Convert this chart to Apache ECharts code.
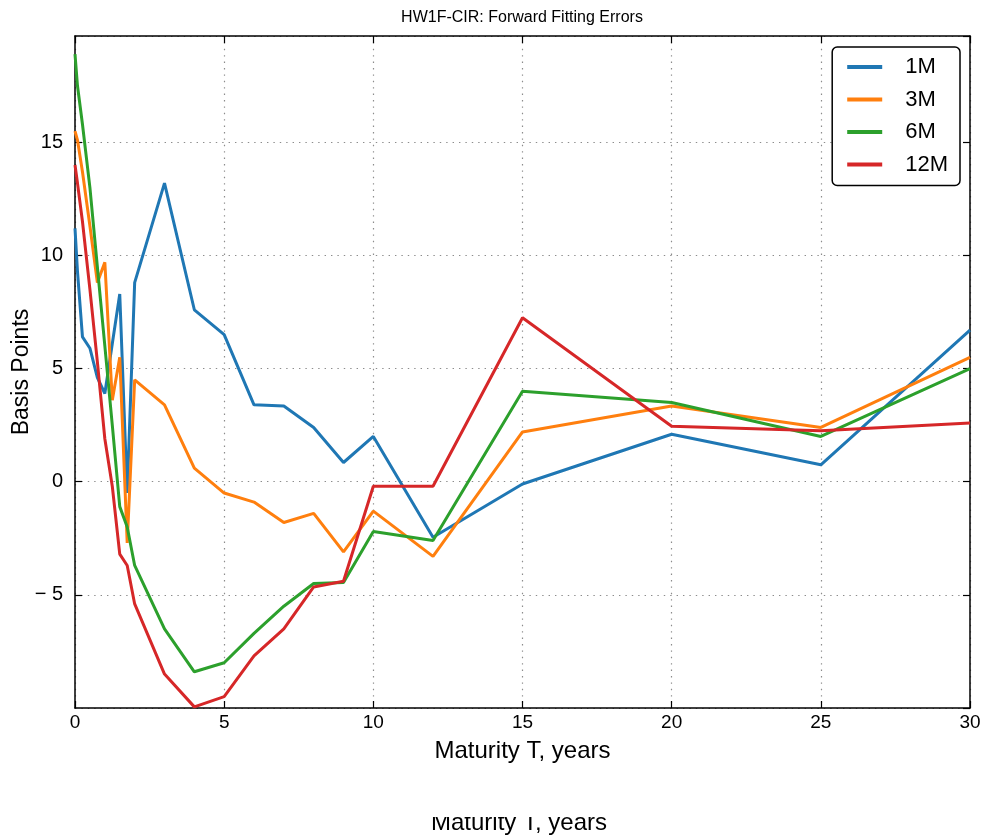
<!DOCTYPE html>
<html>
<head>
<meta charset="utf-8">
<script src="https://cdn.jsdelivr.net/npm/echarts@6/dist/echarts.min.js"></script>
<style>
  html, body { margin: 0; padding: 0; background: #fff; }
  #chart { width: 985px; height: 838px; }
</style>
</head>
<body>
<div id="chart"></div>
<script>
// ---- data ----
const maturities = [0, 0.083, 0.25, 0.5, 0.75, 1, 1.25, 1.5, 1.75, 2, 3, 4, 5, 6, 7, 8, 9, 10, 12, 15, 20, 25, 30];
const err1M  = [11.2, 9.3, 6.4, 5.9, 4.6, 3.9, 6.1, 8.3, -0.5, 8.8, 13.2, 7.6, 6.5, 3.4, 3.35, 2.4, 0.85, 2.0, -2.45, -0.1, 2.1, 0.75, 6.7];
const err3M  = [15.5, 15.1, 13.7, 11.3, 8.8, 9.7, 3.6, 5.5, -2.7, 4.5, 3.4, 0.6, -0.5, -0.9, -1.8, -1.4, -3.1, -1.3, -3.3, 2.2, 3.35, 2.4, 5.5];
const err6M  = [18.9, 17.5, 15.8, 13.0, 9.5, 6.0, 2.5, -1.1, -2.0, -3.7, -6.5, -8.4, -8.0, -6.7, -5.5, -4.5, -4.45, -2.2, -2.6, 4.0, 3.5, 2.0, 5.0];
const err12M = [14.0, 13.2, 11.5, 8.5, 5.3, 1.9, -0.2, -3.2, -3.7, -5.4, -8.5, -9.95, -9.5, -7.7, -6.5, -4.65, -4.4, -0.2, -0.2, 7.25, 2.45, 2.25, 2.6];
const seriesNames = ['1M', '3M', '6M', '12M'];
const seriesValues = [err1M, err3M, err6M, err12M];
const xTicks = [0, 5, 10, 15, 20, 25, 30];
const yTicks = [-10, -5, 0, 5, 10, 15];
const titleText = 'HW1F-CIR: Forward Fitting Errors';
const xName = 'Maturity T, years';
const yName = 'Basis Points';

// ---- style ----
const colors = ['#1f77b4', '#ff7f0e', '#2ca02c', '#d62728'];
const FONT = 'Liberation Sans, Arial, sans-serif';
const gridLine = { show: true, lineStyle: { color: '#8c8c8c', width: 1.2, type: [1.4, 5] } };
const axLine = { show: true, onZero: false, lineStyle: { color: '#000', width: 1.5 } };
const axTick = { show: true, inside: true, length: 7, lineStyle: { color: '#000', width: 1.2 } };

const chart = echarts.init(document.getElementById('chart'), null, { renderer: 'canvas' });

const series = seriesNames.map((name, i) => ({
  name: name,
  type: 'line',
  xAxisIndex: 0,
  yAxisIndex: 0,
  showSymbol: false,
  symbol: 'none',
  data: maturities.map((m, k) => [m, seriesValues[i][k]]),
  lineStyle: { color: colors[i], width: 3 },
  itemStyle: { color: colors[i] },
  z: 3 + i,
  animation: false
}));

const option = {
  animation: false,
  backgroundColor: '#fff',
  grid: { left: 75, right: 15, top: 36, bottom: 130, containLabel: false, outerBoundsMode: 'none' },
  xAxis: [{
    type: 'value', position: 'bottom',
    min: xTicks[0], max: xTicks[xTicks.length - 1], interval: 5,
    axisLine: axLine, axisTick: axTick, splitLine: gridLine,
    axisLabel: { color: '#000', fontSize: 19, fontFamily: FONT, margin: 5 },
    name: xName, nameLocation: 'middle', nameGap: 31, nameMoveOverlap: false,
    nameTextStyle: { color: '#000', fontSize: 24, fontFamily: FONT }
  }, {
    type: 'value', position: 'top',
    min: xTicks[0], max: xTicks[xTicks.length - 1], interval: 5,
    axisLine: axLine, axisTick: axTick, splitLine: { show: false },
    axisLabel: { show: false }
  }],
  yAxis: [{
    type: 'value', position: 'left',
    min: yTicks[0], max: 19.7, interval: 5,
    axisLine: axLine, axisTick: axTick, splitLine: gridLine,
    axisLabel: {
      color: '#000', fontSize: 20, fontFamily: FONT, margin: 12,
      showMinLabel: false, showMaxLabel: false,
      formatter: v => (v < 0 ? '\u2212 ' + (-v) : String(v))
    },
    name: yName, nameLocation: 'middle', nameGap: 42, nameRotate: 90, nameMoveOverlap: false,
    nameTextStyle: { color: '#000', fontSize: 23, fontFamily: FONT }
  }, {
    type: 'value', position: 'right',
    min: yTicks[0], max: 19.7, interval: 5,
    axisLine: axLine, axisTick: axTick, splitLine: { show: false },
    axisLabel: { show: false }
  }],
  legend: {
    orient: 'vertical', right: 25, top: 47,
    data: seriesNames,
    backgroundColor: '#fff', borderColor: '#000', borderWidth: 1.5, borderRadius: 5,
    padding: [9, 12, 10, 15],
    itemWidth: 35, itemHeight: 4, itemGap: 10.5, icon: 'rect',
    textStyle: { color: '#000', fontSize: 22, fontFamily: FONT, lineHeight: 22, padding: [0, 0, 0, 18] },
    z: 10
  },
  graphic: [
    { type: 'text', x: 522, y: 18, z: 10,
      style: { text: titleText, fill: '#000', font: '16px ' + FONT, textAlign: 'center', textVerticalAlign: 'middle' } },
    { type: 'text', x: 519, y: 823, z: 10,
      style: { text: xName, fill: '#000', font: '24px ' + FONT, textAlign: 'center', textVerticalAlign: 'middle' } },
    { type: 'rect', shape: { x: 380, y: 790, width: 280, height: 27 }, z: 11,
      style: { fill: '#fff' } }
  ],
  series: series
};

chart.setOption(option);
</script>
</body>
</html>
